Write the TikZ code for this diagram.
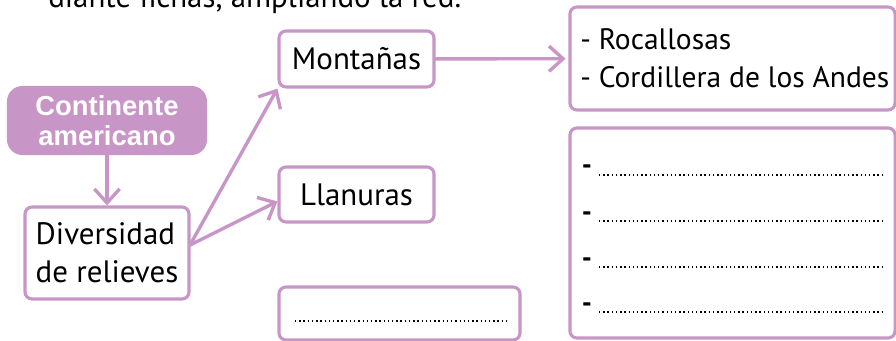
\documentclass[tikz,border=0pt]{standalone}
\usepackage{fontspec}
\setmainfont{PT Sans}
\newfontfamily\cajafont{Liberation Sans}
\usetikzlibrary{arrows.meta}
\definecolor{lila}{RGB}{200,150,198}

\begin{document}
\begin{tikzpicture}[x=0.025cm, y=-0.025cm, >={Straight Barb[length=10pt,width=18pt]},
	texto/.style={font=\fontsize{22}{27}\selectfont},
	caja/.style={texto, draw=lila, line width=2.2pt, rounded corners=5pt, fill=white, inner sep=0pt, align=left},
	flecha/.style={->, draw=lila, line width=2.4pt, line cap=round},
	puntos/.style={line width=1pt, dash pattern=on 1pt off 2pt}]
	\useasboundingbox (0,0) rectangle (896,341);
	\clip (0,0) rectangle (896,341);
	\node[texto, anchor=base west, inner sep=0pt] (titulo) at (48,8) {diante fichas, ampliando la red.};
	\node[fill=lila, rounded corners=11pt, minimum width=5cm, minimum height=1.725cm, text=white,
		align=center, font=\cajafont\bfseries\fontsize{19.5}{21}\selectfont] (cont) at (107,120.5) {Continente\\americano};
	\node[caja, minimum width=4.1cm, minimum height=2.3cm] (div) at (107,253) {Diversidad\\de relieves};
	\node[caja, minimum width=3.875cm, minimum height=1.4cm] (mont) at (356.5,59) {Monta\~nas};
	\node[caja, minimum width=3.875cm, minimum height=1.375cm] (llan) at (356.5,194.5) {Llanuras};
	\node[caja, minimum width=6.025cm, minimum height=1.325cm] (vacio) at (399.5,313.5) {};
	\node[caja, minimum width=8.125cm, minimum height=2.575cm] (roca) at (732.5,58.5) {};
	\node[texto, anchor=west, inner sep=0pt, align=left, font=\fontsize{21}{27}\selectfont]
		(rocatexto) at (580,58.5) {- Rocallosas\\- Cordillera de los Andes};
	\node[caja, minimum width=8.125cm, minimum height=5.25cm] (lista) at (732.5,233) {};
	\draw[puntos] (295,321) -- (510,321);
	\foreach \y [count=\i] in {175,221,267,312}{
		\node[anchor=base, inner sep=0pt, font=\bfseries\fontsize{20}{27}\selectfont] (guion\i) at (587,\y) {-};
		\draw[puntos] (599,\y) -- (885,\y);
	}
	\coordinate (rama) at (190,245);
	\draw[flecha] (cont) -- (div);
	\draw[flecha] (rama) -- (mont.south west);
	\draw[flecha] (rama) -- (llan.185);
	\draw[flecha, shorten >=2pt] (mont) -- (roca);
\end{tikzpicture}
\end{document}
